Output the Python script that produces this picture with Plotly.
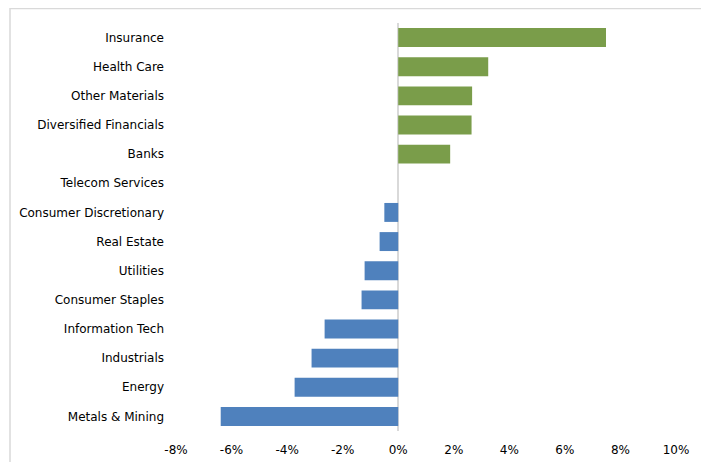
import plotly.graph_objects as go

categories = ["Insurance", "Health Care", "Other Materials", "Diversified Financials", "Banks",
              "Telecom Services", "Consumer Discretionary", "Real Estate", "Utilities",
              "Consumer Staples", "Information Tech", "Industrials", "Energy", "Metals & Mining"]
values = [7.48, 3.24, 2.66, 2.64, 1.87, 0.0, -0.50, -0.67, -1.21, -1.32, -2.65, -3.12, -3.73, -6.39]
tick_vals = [-8, -6, -4, -2, 0, 2, 4, 6, 8, 10]
tick_text = ["-8%", "-6%", "-4%", "-2%", "0%", "2%", "4%", "6%", "8%", "10%"]

GREEN = "#7A9D4A"
BLUE = "#4F81BD"
colors = [GREEN if v > 0 else BLUE for v in values]

fig = go.Figure(go.Bar(
    x=values, y=categories, orientation="h",
    marker=dict(color=colors, line=dict(width=0)),
))

# page has an 8px body margin
OFF = 8
W, H = 709 - OFF, 462 - OFF
L, T = 176 - OFF, 23 - OFF
R = W - (676 - OFF)
B = H - (431 - OFF)
pw, ph = W - L - R, H - T - B

fig.update_layout(
    width=W, height=H,
    margin=dict(l=L, r=R, t=T, b=B, pad=0, autoexpand=False),
    paper_bgcolor="white", plot_bgcolor="white",
    showlegend=False, bargap=0.35,
    font=dict(family="Tahoma, DejaVu Sans, sans-serif", size=12, color="#000000"),
    xaxis=dict(range=[-8, 10], tickvals=tick_vals, ticktext=tick_text, showgrid=False,
               zeroline=True, zerolinecolor="#D9D9D9", zerolinewidth=1.5, automargin=False,
               showline=False, ticks="", ticklabelstandoff=10, fixedrange=True),
    yaxis=dict(categoryorder="array", categoryarray=categories[::-1], showgrid=False,
               zeroline=False, showline=False, ticks="", ticklabelstandoff=11,
               automargin=False, fixedrange=True),
    shapes=[dict(type="rect", xref="paper", yref="paper",
                 x0=(10 - OFF - L) / pw, x1=(702 - OFF - L) / pw,
                 y0=-(H + 30 - T - ph) / ph, y1=1 + (T - 0.5) / ph,
                 line=dict(color="#D9D9D9", width=1.5), fillcolor="rgba(0,0,0,0)", layer="below")],
)

fig.write_html("out.html")
